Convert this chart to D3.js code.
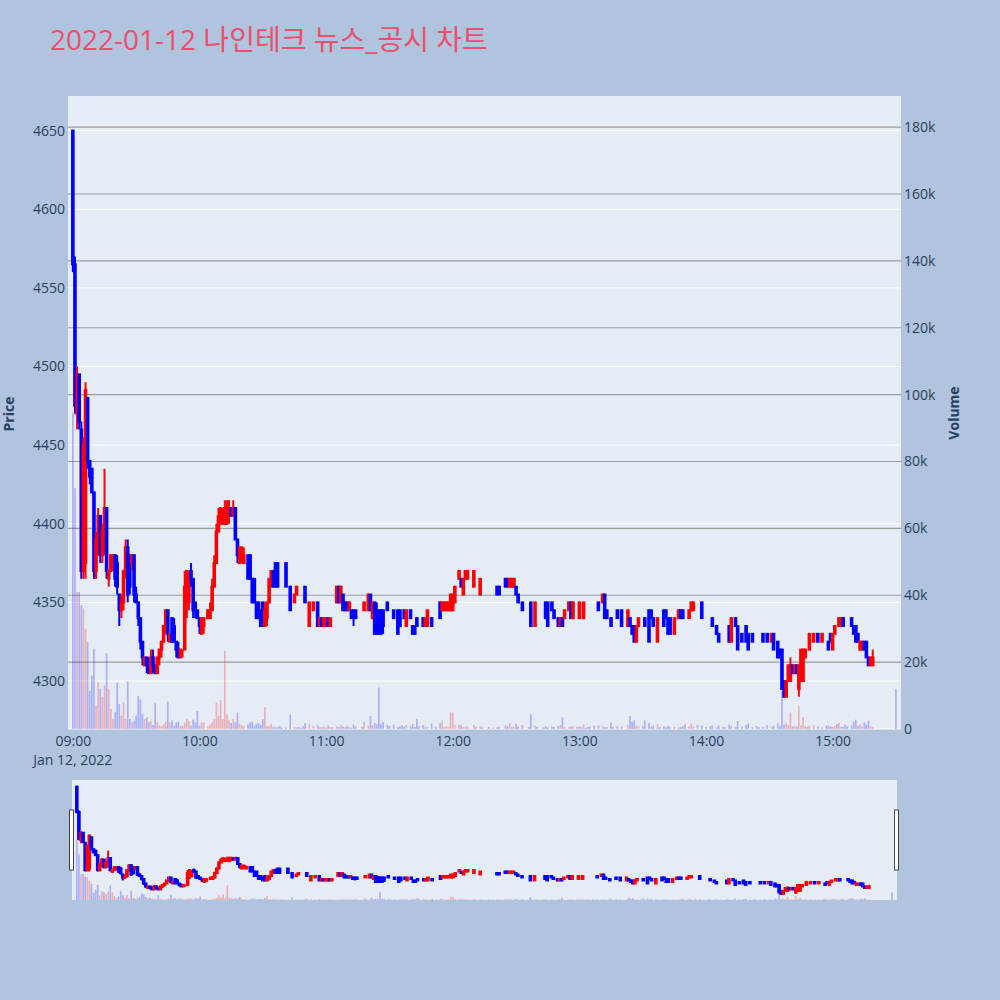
<!DOCTYPE html>
<html>
<head>
<meta charset="utf-8">
<script src="https://cdn.jsdelivr.net/npm/d3@7"></script>
<style>
  body { margin: 0; background: #b0c4de; }
  svg text { font-family: "Open Sans", "Noto Sans CJK KR", sans-serif; }
</style>
</head>
<body>
<main></main>
<script>
// 1-minute bars, index = minutes after 09:00 (null = no trade that minute)
const title = '2022-01-12 나인테크 뉴스_공시 차트';
const priceTicks = [4300, 4350, 4400, 4450, 4500, 4550, 4600, 4650];
const volumeTicks = [0, 20, 40, 60, 80, 100, 120, 140, 160, 180];
const timeTicks = ['09:00', '10:00', '11:00', '12:00', '13:00', '14:00', '15:00'];

const open = [
  4650,4565,4470,4495,4460,4370,4375,4480,4440,4435,
  4420,4370,4390,4405,4380,4385,4410,4365,4370,4375,
  4380,4375,4355,4345,4350,4370,4385,4380,4375,4380,
  4355,4350,4340,4325,4310,4315,4310,4305,4315,4310,
  4305,4315,4320,4325,4335,4345,4325,4340,4335,4325,
  4320,4315,4320,4320,4360,4350,4370,4365,4350,4345,
  4340,4330,4335,null,4340,4340,4345,4360,4375,4395,
  4400,4400,4400,4400,4405,4410,4405,4410,4390,4375,
  4380,4375,null,4380,4380,4365,4365,4350,4350,4345,
  4350,4335,4340,4350,4360,4370,4375,4375,4360,4360,
  null,4375,null,4360,null,4350,4355,4360,4360,4360,
  4360,null,4335,null,4345,null,4350,4335,4340,4335,
  4335,4340,4335,4350,null,4350,4360,4350,4355,4350,
  4350,4345,4345,4345,4345,null,null,4345,4345,null,
  4345,4355,4340,4350,4340,4345,4345,4345,null,4350,
  4345,null,4345,null,4345,4345,4340,4345,4335,null,
  4345,4335,4335,4340,4340,null,4340,4335,4335,null,
  4340,null,4345,null,4350,4345,4345,4345,4345,4345,
  4345,4350,null,4365,4365,4355,4365,4365,null,null,
  4360,4365,null,4355,4360,null,null,4360,null,4365,
  null,4360,4360,null,null,4365,4365,4360,4360,4360,
  4360,4355,null,4350,null,null,4355,4350,null,4335,
  4350,null,null,4350,4350,4350,null,4350,4345,null,
  4340,4335,4340,4340,null,4345,4350,4340,null,4350,
  4340,4350,4340,4350,4350,4350,null,4345,null,4350,
  null,4350,4355,4345,null,4340,4350,null,4345,null,
  4345,null,null,4335,4340,4335,4335,4325,4335,null,
  4340,4340,null,4345,4345,4340,null,4325,4340,null,
  4345,4345,4340,4340,null,4330,null,4340,4345,4345,
  4340,null,4340,4345,4345,null,4350,null,4350,null,
  4340,null,4340,4340,null,4335,4330,null,4330,4330,
  null,4335,4325,null,4340,4335,null,4330,null,4335,
  4330,null,4330,null,4330,4330,null,4330,null,4330,
  null,4325,4330,null,4325,4320,4320,4300,4290,4300,
  4300,4310,4305,4310,4295,4300,4300,4315,4320,4320,
  null,4325,null,4330,null,4325,null,4330,4325,4330,
  4320,4330,4335,4335,4335,4340,4340,4340,null,4340,
  4335,4335,4330,4320,4320,4325,4325,4315,4310,4310,
  null,null,null,null,null,null,null,null,null,null,
  4315
];
const high = [
  4650,4570,4500,4495,4465,4455,4490,4480,4440,4435,
  4420,4395,4410,4405,4400,4435,4410,4370,4380,4380,
  4380,4380,4355,4355,4370,4390,4390,4380,4380,4380,
  4360,4350,4340,4325,4315,4315,4315,4320,4320,4310,
  4315,4320,4325,4335,4345,4345,4330,4340,4340,4325,
  4325,4320,4320,4370,4370,4370,4375,4365,4350,4345,
  4340,4340,4340,null,4345,4350,4365,4380,4400,4410,
  4410,4410,4415,4415,4415,4410,4415,4410,4390,4385,
  4385,4385,null,4380,4380,4365,4365,4350,4350,4345,
  4350,4350,4350,4365,4370,4370,4375,4375,4360,4360,
  null,4375,null,4360,null,4355,4360,4360,4360,4360,
  4360,null,4350,null,4350,null,4350,4340,4340,4340,
  4340,4340,4340,4350,null,4360,4360,4360,4355,4350,
  4350,4350,4345,4345,4345,null,null,4345,4350,null,
  4355,4355,4350,4350,4350,4345,4345,4345,null,4350,
  4345,null,4345,null,4345,4345,4340,4345,4345,null,
  4345,4335,4335,4340,4340,null,4340,4340,4345,null,
  4340,null,4345,null,4350,4350,4350,4350,4350,4355,
  4355,4360,null,4370,4365,4365,4370,4370,null,null,
  4370,4365,null,4365,4360,null,null,4360,null,4365,
  null,4360,4360,null,null,4365,4365,4365,4365,4365,
  4360,4355,null,4350,null,null,4355,4350,null,4350,
  4350,null,null,4350,4350,4350,null,4350,4345,null,
  4340,4340,4340,4345,null,4350,4350,4350,null,4350,
  4350,4350,4350,4350,4350,4350,null,4345,null,4350,
  null,4355,4355,4345,null,4340,4350,null,4345,null,
  4345,null,null,4345,4340,4335,4335,4335,4340,null,
  4340,4340,null,4345,4345,4340,null,4340,4340,null,
  4345,4345,4340,4340,null,4340,null,4345,4345,4345,
  4340,null,4345,4350,4350,null,4350,null,4350,null,
  4340,null,4340,4340,null,4335,4330,null,4330,4330,
  null,4335,4340,null,4340,4335,null,4330,null,4335,
  4330,null,4330,null,4330,4330,null,4330,null,4330,
  null,4330,4330,null,4325,4320,4320,4300,4300,4310,
  4315,4310,4310,4310,4310,4320,4320,4320,4320,4330,
  null,4330,null,4330,null,4330,null,4330,4325,4330,
  4330,4335,4335,4340,4340,4340,4340,4340,null,4340,
  4335,4335,4330,4325,4325,4325,4325,4315,4315,4320,
  null,null,null,null,null,null,null,null,null,null,
  4315
];
const low = [
  4560,4470,4460,4460,4365,4365,4365,4435,4425,4420,
  4365,4365,4380,4375,4375,4380,4365,4360,4370,4370,
  4360,4355,4335,4340,4345,4365,4350,4355,4370,4350,
  4350,4335,4320,4310,4310,4305,4305,4305,4305,4305,
  4305,4310,4315,4325,4330,4325,4325,4325,4325,4315,
  4315,4315,4315,4320,4340,4345,4360,4340,4340,4340,
  4330,4330,4330,null,4340,4340,4345,4360,4375,4395,
  4400,4400,4400,4400,4400,4405,4405,4390,4375,4375,
  4375,4375,null,4365,4365,4350,4350,4340,4340,4335,
  4335,4335,4335,4350,4360,4360,4360,4360,4360,4360,
  null,4360,null,4345,null,4350,4355,4360,4360,4360,
  4350,null,4335,null,4345,null,4335,4335,4335,4335,
  4335,4335,4335,4350,null,4350,4350,4350,4345,4345,
  4345,4345,4340,4335,4340,null,null,4345,4345,null,
  4345,4345,4340,4330,4330,4330,4330,4330,null,4345,
  4345,null,4340,null,4330,4335,4340,4340,4335,null,
  4340,4330,4330,4335,4340,null,4335,4335,4335,null,
  4335,null,4345,null,4340,4345,4345,4345,4345,4345,
  4345,4350,null,4365,4360,4355,4365,4365,null,null,
  4360,4365,null,4355,4360,null,null,4360,null,4365,
  null,4355,4355,null,null,4360,4360,4360,4360,4360,
  4355,4350,null,4345,null,null,4355,4335,null,4335,
  4350,null,null,4350,4340,4335,null,4345,4340,null,
  4335,4335,4335,4340,null,4345,4340,4340,null,4350,
  4340,4350,4340,4350,4350,4350,null,4345,null,4345,
  null,4350,4340,4340,null,4335,4350,null,4340,null,
  4335,null,null,4335,4335,4330,4325,4325,4335,null,
  4340,4335,null,4325,4340,4335,null,4325,4340,null,
  4335,4340,4330,4330,null,4330,null,4340,4340,4340,
  4340,null,4340,4345,4345,null,4350,null,4340,null,
  4340,null,4340,4335,null,4330,4325,null,4330,4330,
  null,4325,4325,null,4335,4320,null,4325,null,4325,
  4320,null,4325,null,4330,4330,null,4325,null,4325,
  null,4325,4320,null,4315,4315,4295,4290,4290,4300,
  4300,4305,4305,4305,4290,4300,4300,4315,4320,4320,
  null,4325,null,4325,null,4325,null,4330,4320,4325,
  4320,4330,4335,4335,4335,4335,4340,4340,null,4335,
  4330,4325,4325,4320,4320,4320,4315,4310,4310,4310,
  null,null,null,null,null,null,null,null,null,null,
  4315
];
const close = [
  4565,4475,4495,4465,4370,4450,4485,4440,4430,4420,
  4370,4390,4405,4380,4395,4410,4370,4370,4380,4380,
  4365,4360,4345,4350,4370,4385,4355,4360,4380,4355,
  4350,4340,4325,4315,4315,4310,4305,4315,4310,4305,
  4315,4320,4325,4335,4345,4330,4330,4325,4325,4320,
  4315,4320,4320,4360,4370,4365,4365,4345,4345,4340,
  4335,4340,4340,null,4345,4345,4360,4375,4395,4405,
  4410,4405,4410,4410,4410,4405,4410,4390,4380,4385,
  4385,4380,null,4365,4365,4350,4350,4340,4340,4335,
  4335,4345,4350,4365,4370,4360,4360,4360,4360,4360,
  null,4360,null,4345,null,4355,4360,4360,4360,4360,
  4350,null,4350,null,4350,null,4335,4340,4335,4340,
  4340,4335,4340,4350,null,4360,4350,4360,4345,4345,
  4345,4350,4340,4340,4340,null,null,4345,4350,null,
  4355,4345,4350,4330,4330,4330,4330,4335,null,4345,
  4345,null,4340,null,4330,4335,4340,4340,4345,null,
  4340,4330,4330,4335,4340,null,4335,4340,4345,null,
  4335,null,4345,null,4340,4350,4350,4350,4350,4355,
  4355,4360,null,4370,4360,4365,4370,4370,null,null,
  4370,4365,null,4365,4360,null,null,4360,null,4365,
  null,4355,4355,null,null,4360,4360,4365,4365,4365,
  4355,4350,null,4345,null,null,4355,4335,null,4350,
  4350,null,null,4350,4340,4335,null,4345,4340,null,
  4335,4340,4335,4345,null,4350,4340,4350,null,4350,
  4350,4350,4350,4350,4350,4350,null,4345,null,4345,
  null,4355,4340,4340,null,4335,4350,null,4340,null,
  4335,null,null,4345,4335,4330,4325,4335,4340,null,
  4340,4335,null,4325,4340,4335,null,4340,4340,null,
  4335,4340,4330,4330,null,4340,null,4345,4340,4340,
  4340,null,4345,4350,4350,null,4350,null,4340,null,
  4340,null,4340,4335,null,4330,4325,null,4330,4330,
  null,4325,4340,null,4335,4320,null,4325,null,4325,
  4320,null,4325,null,4330,4330,null,4325,null,4325,
  null,4330,4320,null,4315,4315,4295,4290,4300,4310,
  4310,4305,4310,4305,4310,4320,4320,4320,4320,4330,
  null,4330,null,4325,null,4330,null,4330,4320,4325,
  4330,4335,4335,4340,4340,4335,4340,4340,null,4335,
  4330,4325,4325,4325,4325,4320,4315,4310,4315,4315,
  null,null,null,null,null,null,null,null,null,null,
  4315
];
// volume in thousands of shares
const volumeK = [
  94.5,72,41,41,37,36,30,26,11.4,16,
  24,7,14,12,9.6,13,22.7,12,6,3,
  5,13.8,7.5,4,8,3,14.3,3,2,2.5,
  4,9.8,8.8,4.5,3,3.5,2,2.4,1.2,7.7,
  2,1.1,0.8,1.4,2.2,8.2,2,2.6,1,2,
  2.2,1,0.8,2,3,2.4,1,2.8,2,5.4,
  1,1.9,2,null,0.8,1.3,2,3,7.9,4,
  8.7,3,23.4,4.3,2.6,1.8,3,2,4.9,1.6,
  1.2,0.9,null,1.4,2,2.2,1,1.5,1.8,1.2,
  3,6.5,0.8,0.9,1.6,0.7,0.5,0.6,0.9,0.4,
  null,0.5,null,4.3,null,0.7,0.5,0.6,0.4,0.8,
  1.8,null,1.5,null,0.9,null,1.2,0.6,0.5,0.7,
  0.4,1,0.6,0.5,null,0.8,0.6,1.2,0.7,0.5,
  0.9,0.6,0.4,1.3,0.7,null,null,0.6,2.2,null,
  0.9,3.9,1.1,1.8,1.4,12.4,1.6,2.1,null,1.2,
  0.9,null,1.3,null,0.6,0.8,1.1,0.7,1.2,null,
  0.8,1.4,0.6,3,0.9,null,1.2,0.8,0.6,null,
  1.6,null,0.7,null,1.8,2.4,0.6,0.9,0.7,5,
  4.9,1.2,null,1.3,1.1,0.6,0.8,0.7,null,null,
  1.2,0.6,null,0.9,0.5,null,null,0.6,null,0.4,
  null,0.5,0.7,null,null,1.1,0.8,1.8,0.6,0.7,
  1.6,0.8,null,1.2,null,null,0.6,4.4,null,1.1,
  0.7,null,null,0.5,0.9,0.6,null,0.8,0.6,null,
  0.9,1.2,3.5,0.6,null,0.5,0.8,0.9,null,0.6,
  0.9,0.5,1.4,0.4,0.6,0.8,null,1.1,null,1.1,
  null,0.8,0.6,0.5,null,2,0.6,null,0.9,null,
  0.7,null,null,1.2,3.9,2.1,2.6,1,0.8,null,
  0.9,2.6,null,1.8,0.7,1,null,1.3,0.6,null,
  0.8,0.5,0.9,0.6,null,0.7,null,0.5,0.6,0.9,
  1.4,null,0.8,1.6,0.7,null,1.2,null,1.1,null,
  0.6,null,0.8,1,null,0.5,1.1,null,0.6,0.5,
  null,1.3,0.9,null,0.6,2.4,null,0.8,null,1.3,
  1.6,null,0.5,null,0.9,0.6,null,0.7,null,1.2,
  null,0.6,1,null,1.7,0.9,11.4,1.3,1.9,1.2,
  4.9,0.8,1,0.7,6.9,1.1,3.6,0.9,0.6,1,
  null,1.2,null,0.8,null,0.6,null,0.9,1.1,0.7,
  0.6,0.9,1.5,1.8,0.7,0.6,1.3,0.8,null,1,
  2.2,2.8,0.9,1.4,0.7,2,1.3,2.5,0.8,0.6,
  null,null,null,null,null,null,null,null,null,null,
  12
];

const w = 1000;
const h = 1000;
const plot = { left: 68, right: 901, top: 96, bottom: 729 };
const slider = { left: 72, right: 897, top: 780, bottom: 900 };
const tickColor = '#2a3f5f';

const day = (hh, mm, ss) => new Date(2022, 0, 12, hh, mm, ss || 0);
const parseTick = d3.timeParse('%H:%M');

// plotly-like direction: flat candles keep the previous direction unless the close moved
let inc = true, prevC = null;
const bars = [];
open.forEach((o, i) => {
  if (o === null) return;
  const c = close[i];
  if (c === o) {
    if (prevC !== null && c !== prevC) inc = c > prevC;
  } else inc = c > o;
  prevC = c;
  bars.push({ t: day(9, i), o: o, h: high[i], l: low[i], c: c, v: volumeK[i], up: inc, vUp: c > o });
});

const svg = d3.select('main').append('svg').attr('width', w).attr('height', h);
svg.append('rect').attr('width', w).attr('height', h).attr('fill', '#b0c4de');

svg.append('text')
  .attr('x', 50).attr('y', 50)
  .attr('font-size', 28)
  .attr('fill', '#ea4f6b')
  .text(title);

const xScale = d3.scaleTime()
  .domain([day(8, 57, 42), day(15, 32, 24)])
  .range([plot.left, plot.right]);
const yPrice = d3.scaleLinear().domain([4269.5, 4672]).range([plot.bottom, plot.top]);
const yVol = d3.scaleLinear().domain([0, 189.3]).range([plot.bottom, plot.top]);

svg.append('rect')
  .attr('x', plot.left).attr('y', plot.top)
  .attr('width', plot.right - plot.left).attr('height', plot.bottom - plot.top)
  .attr('fill', '#e5ecf6');

// grids: white for price, grey for volume
svg.append('g').selectAll('line').data(priceTicks).enter().append('line')
  .attr('x1', plot.left).attr('x2', plot.right)
  .attr('y1', d => yPrice(d)).attr('y2', d => yPrice(d))
  .attr('stroke', '#fff').attr('stroke-width', 1);
svg.append('g').selectAll('line').data(volumeTicks).enter().append('line')
  .attr('x1', plot.left).attr('x2', plot.right)
  .attr('y1', d => yVol(d)).attr('y2', d => yVol(d))
  .attr('stroke', d => d === 0 ? '#fff' : '#9c9c9c').attr('stroke-width', 1.2);

svg.append('clipPath').attr('id', 'clipMain').append('rect')
  .attr('x', plot.left).attr('y', plot.top)
  .attr('width', plot.right - plot.left).attr('height', plot.bottom - plot.top);

function drawBars(g, x, yp, yv, bodyW, wickW) {
  g.selectAll('rect.vol').data(bars.filter(d => d.v)).enter().append('rect')
    .attr('class', 'vol')
    .attr('x', d => x(d.t) - 0.85)
    .attr('width', 1.7)
    .attr('y', d => yv(d.v))
    .attr('height', d => yv(0) - yv(d.v))
    .attr('fill', d => d.vUp ? 'rgba(255,0,0,0.25)' : 'rgba(0,0,255,0.25)');
  const c = g.selectAll('g.candle').data(bars).enter().append('g').attr('class', 'candle');
  c.append('line')
    .attr('x1', d => x(d.t)).attr('x2', d => x(d.t))
    .attr('y1', d => yp(d.h)).attr('y2', d => yp(d.l))
    .attr('stroke', d => d.up ? '#ff0000' : '#0000ff')
    .attr('stroke-width', wickW);
  c.append('rect')
    .attr('x', d => x(d.t) - bodyW / 2)
    .attr('width', bodyW)
    .attr('y', d => yp(Math.max(d.o, d.c)))
    .attr('height', d => Math.abs(yp(d.o) - yp(d.c)))
    .attr('fill', d => d.up ? '#ff0000' : '#0000ff')
    .attr('stroke', d => d.up ? '#ff0000' : '#0000ff')
    .attr('stroke-width', 2);
}

drawBars(svg.append('g').attr('clip-path', 'url(#clipMain)'), xScale, yPrice, yVol, 1.6, 2);

// axes
const yAxisL = d3.axisLeft(yPrice).tickValues(priceTicks).tickSize(0).tickPadding(3)
  .tickFormat(d3.format('d'));
const yAxisR = d3.axisRight(yVol).tickValues(volumeTicks).tickSize(0).tickPadding(3)
  .tickFormat(d => d === 0 ? '0' : d + 'k');
const xAxis = d3.axisBottom(xScale)
  .tickValues(timeTicks.map(s => { const p = parseTick(s); return day(p.getHours(), p.getMinutes()); }))
  .tickSize(0).tickPadding(7)
  .tickFormat(d3.timeFormat('%H:%M'));

function styleAxis(g) {
  g.select('.domain').remove();
  g.selectAll('text').attr('fill', tickColor).attr('font-size', 14)
    .attr('font-family', '"Open Sans", sans-serif');
}
svg.append('g').attr('transform', `translate(${plot.left},0)`).call(yAxisL).call(styleAxis);
svg.append('g').attr('transform', `translate(${plot.right},0)`).call(yAxisR).call(styleAxis);
svg.append('g').attr('transform', `translate(0,${plot.bottom})`).call(xAxis).call(styleAxis);

svg.append('text')
  .attr('x', xScale(day(9, 0))).attr('y', 765)
  .attr('text-anchor', 'middle').attr('font-size', 14).attr('fill', tickColor)
  .text('Jan 12, 2022');

svg.append('text')
  .attr('transform', 'translate(14,414) rotate(-90)')
  .attr('text-anchor', 'middle').attr('font-size', 14).attr('font-weight', 'bold')
  .attr('fill', tickColor).text('Price');
svg.append('text')
  .attr('transform', 'translate(959,413) rotate(-90)')
  .attr('text-anchor', 'middle').attr('font-size', 14).attr('font-weight', 'bold')
  .attr('fill', tickColor).text('Volume');

// range slider
const xs = d3.scaleTime().domain(xScale.domain()).range([slider.left, slider.right]);
const ysP = d3.scaleLinear().domain(yPrice.domain()).range([slider.bottom, slider.top]);
const ysV = d3.scaleLinear().domain(yVol.domain()).range([slider.bottom, slider.top]);
svg.append('rect')
  .attr('x', slider.left).attr('y', slider.top)
  .attr('width', slider.right - slider.left).attr('height', slider.bottom - slider.top)
  .attr('fill', '#e5ecf6');
svg.append('clipPath').attr('id', 'clipSlider').append('rect')
  .attr('x', slider.left).attr('y', slider.top)
  .attr('width', slider.right - slider.left).attr('height', slider.bottom - slider.top);
drawBars(svg.append('g').attr('clip-path', 'url(#clipSlider)'), xs, ysP, ysV, 1.6, 2);

[slider.left - 2.5, slider.right - 2.5].forEach(hx => {
  svg.append('rect')
    .attr('x', hx).attr('y', 810).attr('width', 4).attr('height', 60)
    .attr('fill', '#fff').attr('stroke', '#444').attr('stroke-width', 1);
});
</script>
</body>
</html>
